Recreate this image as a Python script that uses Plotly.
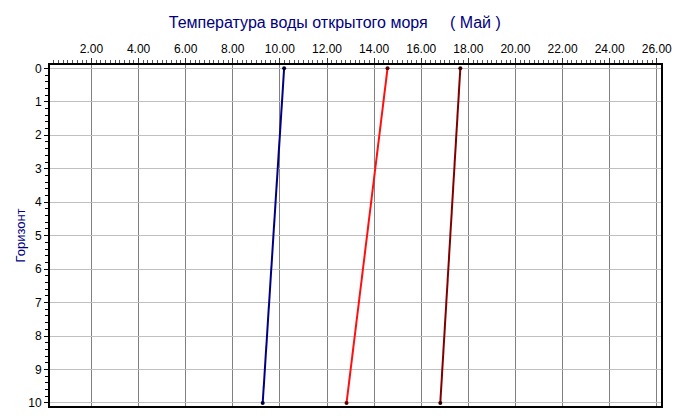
import plotly.graph_objects as go

# Data
depth = [0, 10]
temp_blue = [10.18, 9.27]
temp_red = [14.57, 12.83]
temp_darkred = [17.66, 16.81]

x_ticks = [2, 4, 6, 8, 10, 12, 14, 16, 18, 20, 22, 24, 26]
x_ticklabels = ["%.2f" % v for v in x_ticks]
y_ticks = list(range(0, 11))

title_text = "Температура воды открытого моря\u00a0\u00a0\u00a0\u00a0\u00a0( Май )"
y_title = "Горизонт"

fig = go.Figure()
series = [
    (temp_blue, "#000080", "#000030"),
    (temp_red, "#ff1010", "#600000"),
    (temp_darkred, "#800000", "#300000"),
]
for vals, col, mcol in series:
    fig.add_trace(go.Scatter(
        x=vals, y=depth, mode="lines+markers",
        line=dict(color=col, width=2),
        marker=dict(color=mcol, size=4),
        showlegend=False, hoverinfo="x+y",
    ))

font_family = "Liberation Sans, Arial, sans-serif"

fig.update_layout(
    width=675, height=419,
    margin=dict(l=50, r=14, t=65, b=13),
    paper_bgcolor="white", plot_bgcolor="white",
    title=dict(text=title_text, x=0.496, xanchor="center", y=1 - 22 / 419,
               yanchor="middle", font=dict(family=font_family, size=16, color="#000080")),
    font=dict(family=font_family, size=12, color="black"),
    xaxis=dict(
        side="top", range=[0.24, 26.18], automargin=False,
        tickmode="array", tickvals=x_ticks, ticktext=x_ticklabels,
        showgrid=True, gridcolor="#808080", gridwidth=1,
        zeroline=False,
        showline=True, linecolor="black", linewidth=2, mirror=True,
        ticks="outside", ticklen=5, tickcolor="#333",
        minor=dict(dtick=0.2, tick0=0, ticks="outside", ticklen=3, tickcolor="#555", showgrid=False),
        tickfont=dict(size=12, color="black"),
    ),
    yaxis=dict(
        range=[10.09, -0.1], automargin=False,
        tickmode="array", tickvals=y_ticks,
        showgrid=True, gridcolor="#c0c0c0", gridwidth=1,
        zeroline=False,
        showline=True, linecolor="black", linewidth=2, mirror=True,
        ticks="outside", ticklen=4, tickcolor="black",
        minor=dict(dtick=0.2, tick0=0, ticks="outside", ticklen=3, tickcolor="black", showgrid=False),
        tickfont=dict(size=12, color="black"),
    ),
    annotations=[dict(
        text=y_title, textangle=-90, showarrow=False,
        xref="paper", yref="paper", x=(20 - 50) / 611, y=0.5,
        xanchor="center", yanchor="middle",
        font=dict(family=font_family, size=13, color="#000080"),
    )],
)

fig.write_html(
    "out.html",
    config={"displayModeBar": False},
    post_script="document.body.style.margin='0px';document.body.style.overflow='hidden';",
)
